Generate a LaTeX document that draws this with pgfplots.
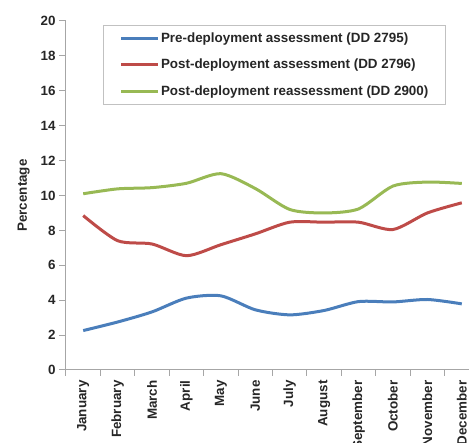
\documentclass[border=0pt]{standalone}
\usepackage{fontspec}
\setmainfont{Liberation Sans}
\usepackage{pgfplots}
\pgfplotsset{compat=1.18}

\definecolor{preblue}{HTML}{4A7EBB}
\definecolor{postred}{HTML}{BE4B48}
\definecolor{reagreen}{HTML}{98B954}
\definecolor{axgray}{HTML}{A6A6A6}

\newcommand{\chartfont}{\fontsize{13.4}{16}\selectfont\bfseries}

\begin{document}
\begin{tikzpicture}
  \begin{axis}[
      scale only axis,
      width=413pt, height=349pt,
      at={(0,0)}, anchor=south west,
      xmin=-0.5, xmax=11.5,
      ymin=0, ymax=20,
      ytick={0,2,...,20},
      xtick={0,...,11},
      xticklabels={January,February,March,April,May,June,July,August,September,October,November,December},
      minor xtick={-0.5,0.5,...,11.5},
      major x tick style={draw=none},
      minor tick length=6pt,
      major tick length=7pt,
      tick align=outside,
      axis x line*=bottom,
      axis y line*=left,
      axis line style={axgray, line width=1pt},
      tick style={axgray, line width=1pt},
      /pgf/number format/assume math mode=true,
      ticklabel style={font=\chartfont, text=black!85},
      xticklabel style={rotate=90, anchor=east},
      ylabel={Percentage},
      ylabel style={font=\chartfont, text=black!85},
      ylabel shift=4pt,
      legend cell align=left,
      legend style={
        at={(axis description cs:0.0896,0.9885)}, anchor=north west,
        draw=axgray!70, line width=1pt,
        font=\chartfont, text=black!85,
        inner xsep=16pt, inner ysep=5.5pt,
        row sep=12.5pt,
        nodes={inner sep=1.5pt},
      },
      legend image code/.code={\draw[#1] (0pt,0pt) -- (37pt,0pt);},
      every axis plot/.append style={line width=3pt, smooth, tension=0.45},
    ]
    \addplot[preblue] coordinates {
      (0,2.26) (1,2.75) (2,3.33) (3,4.12) (4,4.25) (5,3.45)
      (6,3.16) (7,3.41) (8,3.92) (9,3.9) (10,4.04) (11,3.79)};
    \addlegendentry{Pre-deployment assessment (DD 2795)}
    \addplot[postred] coordinates {
      (0,8.85) (1,7.41) (2,7.22) (3,6.55) (4,7.18) (5,7.8)
      (6,8.47) (7,8.47) (8,8.47) (9,8.05) (10,9.0) (11,9.58)};
    \addlegendentry{Post-deployment assessment (DD 2796)}
    \addplot[reagreen] coordinates {
      (0,10.1) (1,10.38) (2,10.45) (3,10.7) (4,11.25) (5,10.4)
      (6,9.2) (7,9.0) (8,9.23) (9,10.54) (10,10.77) (11,10.69)};
    \addlegendentry{Post-deployment reassessment (DD 2900)}
  \end{axis}
  \pgfresetboundingbox
  \useasboundingbox (-66pt,-73pt) rectangle (403pt,370pt);
\end{tikzpicture}
\end{document}
